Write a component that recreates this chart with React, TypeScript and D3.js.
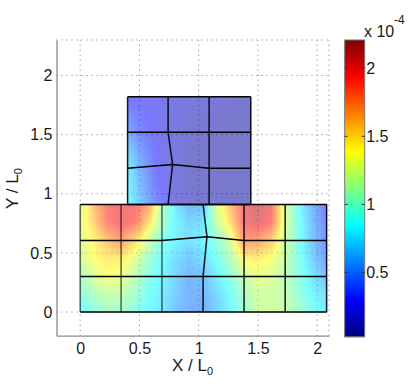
import React, { useEffect, useRef } from 'react';
import * as d3 from 'd3';

const width = 409;
const height = 384;

const xTicks = [0, 0.5, 1, 1.5, 2];
const yTicks = [0, 0.5, 1, 1.5, 2];
const barTicks = [0.5, 1, 1.5, 2];

const jetStops = ['#00007f', '#0000ff', '#007fff', '#00ffff', '#7fff7f', '#ffff00', '#ff7f00', '#ff0000', '#7f0000'];

// sample positions of the field, lower block
const lowerX = [0, 0.115, 0.23, 0.345, 0.46, 0.575, 0.69, 0.805, 0.92, 1.037, 1.153, 1.268, 1.383, 1.498, 1.614, 1.73, 1.846, 1.962, 2.08];
const lowerY = [0.91, 0.76, 0.605, 0.45, 0.3, 0.15, 0];
const lowerField = [
  [1.22, 1.62, 1.92, 1.98, 1.96, 1.75, 1.12, 0.75, 0.55, 0.6, 1.25, 1.62, 1.95, 2.12, 1.95, 1.22, 0.85, 0.55, 0.33],
  [1.27, 1.55, 1.88, 1.98, 1.92, 1.55, 1.08, 0.82, 0.68, 0.72, 1.18, 1.52, 1.95, 2.05, 1.92, 1.28, 0.9, 0.6, 0.36],
  [1.27, 1.42, 1.62, 1.78, 1.55, 1.22, 0.95, 0.8, 0.74, 0.8, 0.97, 1.22, 1.8, 1.75, 1.58, 1.22, 0.9, 0.62, 0.4],
  [1.22, 1.38, 1.46, 1.46, 1.3, 1.05, 0.85, 0.72, 0.62, 0.72, 0.88, 1.08, 1.42, 1.46, 1.38, 1.18, 0.92, 0.68, 0.46],
  [1.07, 1.25, 1.38, 1.32, 1.17, 0.93, 0.82, 0.68, 0.55, 0.6, 0.78, 0.96, 1.18, 1.3, 1.26, 1.12, 0.95, 0.75, 0.6],
  [0.95, 1.08, 1.18, 1.15, 1.05, 0.88, 0.78, 0.66, 0.55, 0.55, 0.7, 0.85, 1.05, 1.22, 1.2, 1.15, 1.0, 0.82, 0.72],
  [0.82, 0.95, 1.05, 1.05, 0.95, 0.82, 0.75, 0.62, 0.52, 0.52, 0.65, 0.82, 1.02, 1.2, 1.2, 1.18, 1.05, 0.9, 0.78],
];

const upperX = [0.4, 0.514, 0.628, 0.742, 0.857, 0.973, 1.088, 1.205, 1.322, 1.44];
const upperY = [1.82, 1.67, 1.52, 1.37, 1.215, 1.06, 0.91];
const upperField = [
  [0.27, 0.29, 0.27, 0.23, 0.2, 0.18, 0.16, 0.15, 0.13, 0.12],
  [0.4, 0.32, 0.28, 0.22, 0.17, 0.14, 0.13, 0.12, 0.11, 0.11],
  [0.52, 0.36, 0.28, 0.2, 0.15, 0.12, 0.11, 0.1, 0.1, 0.1],
  [0.68, 0.46, 0.3, 0.2, 0.14, 0.11, 0.1, 0.1, 0.09, 0.09],
  [0.78, 0.54, 0.32, 0.21, 0.14, 0.11, 0.1, 0.09, 0.09, 0.09],
  [0.82, 0.58, 0.36, 0.23, 0.14, 0.11, 0.1, 0.09, 0.09, 0.09],
  [0.85, 0.63, 0.42, 0.27, 0.16, 0.11, 0.1, 0.1, 0.09, 0.09],
];

// mesh nodes [x, y], rows go left to right
const lowerMesh = [
  [[0, 0.91], [0.345, 0.91], [0.69, 0.91], [1.037, 0.91], [1.383, 0.91], [1.73, 0.91], [2.08, 0.91]],
  [[0, 0.605], [0.345, 0.605], [0.69, 0.605], [1.07, 0.637], [1.383, 0.605], [1.73, 0.605], [2.08, 0.605]],
  [[0, 0.3], [0.345, 0.3], [0.69, 0.3], [1.037, 0.3], [1.383, 0.3], [1.73, 0.3], [2.08, 0.3]],
  [[0, 0], [0.345, 0], [0.69, 0], [1.037, 0], [1.383, 0], [1.73, 0], [2.08, 0]],
];
const upperMesh = [
  [[0.4, 1.82], [0.742, 1.82], [1.088, 1.82], [1.44, 1.82]],
  [[0.4, 1.52], [0.742, 1.52], [1.088, 1.52], [1.44, 1.52]],
  [[0.4, 1.215], [0.78, 1.247], [1.088, 1.215], [1.44, 1.215]],
  [[0.4, 0.91], [0.742, 0.91], [1.088, 0.91], [1.44, 0.91]],
];

const sampleField = (xs: number[], ys: number[], field: number[][], x: number, y: number) => {
  const ci = Math.min(d3.bisectRight(xs, x), xs.length - 1);
  const i = Math.max(ci - 1, 0);
  let j = 0;
  while (j < ys.length - 2 && ys[j + 1] > y) j++;
  const tx = Math.max(0, Math.min(1, (x - xs[i]) / (xs[i + 1] - xs[i])));
  const ty = Math.max(0, Math.min(1, (ys[j] - y) / (ys[j] - ys[j + 1])));
  const top = field[j][i] * (1 - tx) + field[j][i + 1] * tx;
  const bottom = field[j + 1][i] * (1 - tx) + field[j + 1][i + 1] * tx;
  return top * (1 - ty) + bottom * ty;
};

export default function App() {
  const wrapper = useRef<SVGSVGElement>(null);

  useEffect(() => {
    const svg = d3.select(wrapper.current);
    svg.selectAll('*').remove();

    const x = d3.scaleLinear().domain([-0.2, 2.1]).range([56.5, 329]);
    const y = d3.scaleLinear().domain([-0.2, 2.3]).range([335.7, 40]);
    const barY = d3.scaleLinear().domain([0.028, 2.208]).range([336.7, 40]);
    const color = d3
      .scaleLinear<string>()
      .domain(jetStops.map((_, i) => 0.028 + (i / (jetStops.length - 1)) * 2.18))
      .range(jetStops)
      .clamp(true);

    // dotted grid, it shows through the faces
    const grid = svg.append('g').attr('stroke', '#777').attr('stroke-width', 1).attr('stroke-dasharray', '1 4');
    grid.selectAll('line.v').data([...xTicks, 2.1]).join('line').attr('class', 'v')
      .attr('x1', d => x(d)).attr('x2', d => x(d)).attr('y1', y(-0.2)).attr('y2', y(2.3));
    grid.selectAll('line.h').data([...yTicks, 2.3]).join('line').attr('class', 'h')
      .attr('y1', d => y(d)).attr('y2', d => y(d)).attr('x1', x(-0.2)).attr('x2', x(2.1));

    const drawField = (xs: number[], ys: number[], field: number[][]) => {
      const step = 2;
      const cells: { x: number; y: number; v: number }[] = [];
      const left = Math.round(x(xs[0]));
      const right = Math.round(x(xs[xs.length - 1]));
      const top = Math.round(y(ys[0]));
      const bottom = Math.round(y(ys[ys.length - 1]));
      for (let px = left; px < right; px += step) {
        for (let py = top; py < bottom; py += step) {
          cells.push({ x: px, y: py, v: sampleField(xs, ys, field, x.invert(px + 1), y.invert(py + 1)) });
        }
      }
      svg.append('g').attr('opacity', 0.52).selectAll('rect').data(cells).join('rect')
        .attr('x', d => d.x).attr('y', d => d.y)
        .attr('width', d => Math.min(step, right - d.x)).attr('height', d => Math.min(step, bottom - d.y))
        .attr('fill', d => color(d.v));
    };
    drawField(upperX, upperY, upperField);
    drawField(lowerX, lowerY, lowerField);

    // mesh
    const line = d3.line<number[]>().x(d => x(d[0])).y(d => y(d[1]));
    const drawMesh = (mesh: number[][][], fadedColumns: number[]) => {
      const columns = mesh[0].map((_, c) => mesh.map(row => row[c]));
      const g = svg.append('g').attr('fill', 'none').attr('stroke', '#000').attr('stroke-width', 1.5);
      g.selectAll('path.row').data(mesh).join('path').attr('class', 'row').attr('d', d => line(d));
      g.selectAll('path.col').data(columns).join('path').attr('class', 'col').attr('d', d => line(d))
        .attr('stroke-opacity', (_, i) => (fadedColumns.includes(i) ? 0.6 : 0.9));
    };
    drawMesh(upperMesh, []);
    drawMesh(lowerMesh, [0, 1, 2]);

    // axes
    const axisFont = 'Liberation Sans, Arial, sans-serif';
    const xAxis = svg.append('g').attr('transform', `translate(0,${y(-0.2)})`)
      .call(d3.axisBottom(x).tickValues(xTicks).tickFormat(d => String(d)).tickSize(0).tickPadding(7));
    const yAxis = svg.append('g').attr('transform', `translate(${x(-0.2)},0)`)
      .call(d3.axisLeft(y).tickValues(yTicks).tickFormat(d => String(d)).tickSize(0).tickPadding(4));
    [xAxis, yAxis].forEach(a => {
      a.select('.domain').attr('stroke', '#8c8c8c').attr('stroke-width', 1.3);
      a.selectAll('text').attr('font-family', axisFont).attr('font-size', 16).attr('fill', '#1a1a1a');
    });

    // colorbar
    const barLeft = 344.7;
    const barRight = 364.7;
    const levels = d3.range(40, 336.7, 1);
    svg.append('g').selectAll('rect').data(levels).join('rect')
      .attr('x', barLeft).attr('y', d => d).attr('width', barRight - barLeft).attr('height', 1.2)
      .attr('fill', d => color(barY.invert(d + 0.5)));
    svg.append('rect').attr('x', barLeft).attr('y', 40).attr('width', barRight - barLeft).attr('height', 296.7)
      .attr('fill', 'none').attr('stroke', '#777').attr('stroke-width', 1);
    const bar = svg.append('g').attr('font-family', axisFont).attr('font-size', 16).attr('fill', '#1a1a1a');
    bar.selectAll('text').data(barTicks).join('text')
      .attr('x', barRight + 1.5).attr('y', d => barY(d)).attr('dy', '0.36em').text(d => String(d));
    const barMarks = svg.append('g').attr('stroke', '#333').attr('stroke-width', 1);
    barMarks.selectAll('line.l').data(barTicks).join('line').attr('class', 'l')
      .attr('x1', barLeft).attr('x2', barLeft + 3).attr('y1', d => barY(d)).attr('y2', d => barY(d));
    barMarks.selectAll('line.r').data(barTicks).join('line').attr('class', 'r')
      .attr('x1', barRight - 3).attr('x2', barRight).attr('y1', d => barY(d)).attr('y2', d => barY(d));
    bar.append('text').attr('x', 364).attr('y', 37).text('x 10');
    bar.append('text').attr('x', 394).attr('y', 24).attr('font-size', 12).text('-4');

    // axis titles with subscript
    const title = svg.append('g').attr('font-family', axisFont).attr('font-size', 17).attr('fill', '#1a1a1a');
    const xTitle = title.append('text').attr('x', 172).attr('y', 371);
    xTitle.append('tspan').text('X / L');
    xTitle.append('tspan').attr('font-size', 11).attr('dy', 4).text('0');
    const yTitle = title.append('text').attr('transform', 'translate(18,209) rotate(-90)');
    yTitle.append('tspan').text('Y / L');
    yTitle.append('tspan').attr('font-size', 11).attr('dy', 4).text('0');
  }, []);

  return <svg ref={wrapper} width={width} height={height} style={{ position: 'fixed', left: 0, top: 0, background: '#fff' }} />;
}
